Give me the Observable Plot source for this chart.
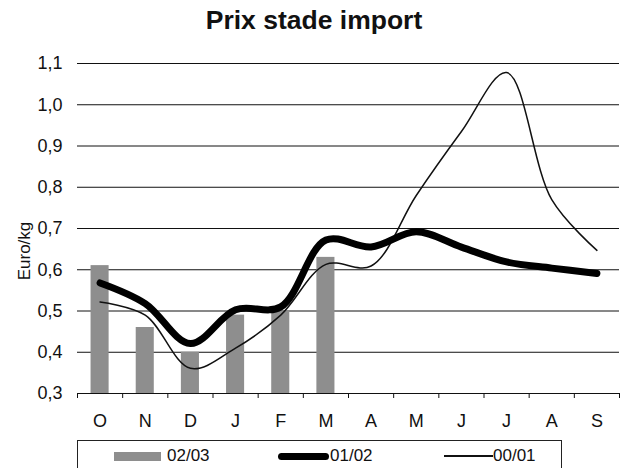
<!DOCTYPE html>
<html><head><meta charset="utf-8">
<script src="https://cdn.jsdelivr.net/npm/d3@7"></script>
<script src="https://cdn.jsdelivr.net/npm/@observablehq/plot@0.6"></script>
<style>
body{margin:0;background:#fff;font-family:"Liberation Sans",Arial,sans-serif;}
#wrap{position:relative;width:628px;height:468px;overflow:hidden;}
#title{position:absolute;left:0;top:5px;width:628px;text-align:center;font-weight:bold;font-size:26.5px;color:#111;}
#chart{position:absolute;left:0;top:40px;}
#chart svg text{font-size:18px;}
#ylab{position:absolute;left:24px;top:251px;transform:translate(-50%,-50%) rotate(-90deg);font-size:17px;color:#111;white-space:nowrap;line-height:1;}
#legend{position:absolute;left:77px;top:440px;width:485px;height:40px;border:1px solid #222;box-sizing:border-box;font-size:17px;color:#111;}
.item{position:absolute;top:6px;display:flex;align-items:center;height:18px;}
.sw{display:inline-block;}
</style></head>
<body><div id="wrap">
<div id="title">Prix stade import</div>
<div id="chart"></div>
<div id="ylab"></div>
<div id="legend"></div>
</div>
<script>
const months = ["O","N","D","J","F","M","A","M","J","J","A","S"];
const series0203 = [0.61,0.46,0.40,0.49,0.50,0.63];
const series0102 = [0.568,0.518,0.421,0.503,0.51,0.672,0.655,0.692,0.655,0.619,0.604,0.591];
const series0001 = [0.522,0.49,0.361,0.41,0.49,0.613,0.609,0.78,0.935,1.078,0.77,0.647];
const yTicks = [0.3,0.4,0.5,0.6,0.7,0.8,0.9,1.0,1.1];
const seriesNames = ["02/03","01/02","00/01"];
const yLabel = "Euro/kg";
const barColor = "#8e8e8e";

const bars = series0203.map((v,i)=>({i, v}));
const l0102 = series0102.map((v,i)=>({i, v}));
const l0001 = series0001.map((v,i)=>({i, v}));
const edges = d3.range(months.length+1).map(k=>k-0.5);
const fmt = d => d3.format(".1f")(d).replace(".", ",");

const chart = Plot.plot({
  width: 628, height: 398,
  marginTop: 23, marginBottom: 45, marginLeft: 77, marginRight: 9,
  style: {fontFamily: '"Liberation Sans", Arial, sans-serif', fontSize: "18px", color: "#111", background: "transparent"},
  x: {type: "linear", domain: [-0.5, months.length-0.5], axis: null},
  y: {domain: [0.3, 1.1], axis: null},
  marks: [
    Plot.ruleY(yTicks, {stroke: "#111", strokeWidth: 1}),
    Plot.rectY(bars, {x1: d=>d.i-0.2, x2: d=>d.i+0.2, y1: 0.3, y2: "v", fill: barColor}),
    Plot.line(l0001, {x: "i", y: "v", curve: "catmull-rom", stroke: "#111", strokeWidth: 1.5}),
    Plot.line(l0102, {x: "i", y: "v", curve: "catmull-rom", stroke: "#000", strokeWidth: 7, strokeLinecap: "round"}),
    Plot.axisX({ticks: edges, tickFormat: () => "", tickSize: 5, stroke: "#111", label: null}),
    Plot.axisX({ticks: d3.range(months.length), tickFormat: i => months[i], tickSize: 0, tickPadding: 21, fontSize: 18, label: null}),
    Plot.axisY({ticks: yTicks, tickFormat: fmt, tickSize: 0, tickPadding: 15, fontSize: 18, label: null})
  ]
});
document.getElementById("chart").appendChild(chart);
document.getElementById("ylab").textContent = yLabel;

const legend = document.getElementById("legend");
const items = [
  {name: seriesNames[0], left: 36, sw: `<span class="sw" style="width:47px;height:9px;background:${barColor}"></span>`, gap: 6},
  {name: seriesNames[1], left: 200, sw: `<span class="sw" style="width:51px;height:7px;background:#000;border-radius:4px"></span>`, gap: 1},
  {name: seriesNames[2], left: 366, sw: `<span class="sw" style="width:49px;height:1.5px;background:#111"></span>`, gap: 0}
];
for (const it of items) {
  const d = document.createElement("div");
  d.className = "item";
  d.style.left = it.left + "px";
  d.innerHTML = it.sw + `<span style="margin-left:${it.gap}px">${it.name}</span>`;
  legend.appendChild(d);
}
</script>
</body></html>
